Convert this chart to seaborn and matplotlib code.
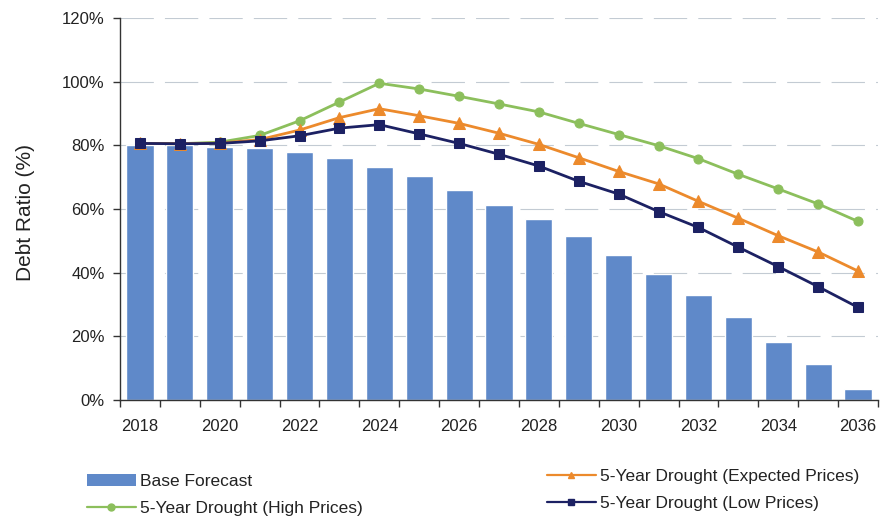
import numpy as np
import pandas as pd
import matplotlib
matplotlib.use("Agg")
import matplotlib.pyplot as plt
from matplotlib.patches import Patch
from matplotlib.lines import Line2D
import seaborn as sns

# Debt ratio projections (%), 2018-2036
years = list(range(2018, 2037))
base_forecast = [80.2, 80.0, 79.5, 79.1, 77.9, 75.9, 73.2, 70.3, 66.0, 61.3,
                 56.8, 51.5, 45.6, 39.5, 33.0, 26.0, 18.3, 11.2, 3.6]
high_prices = [80.6, 80.5, 81.0, 83.1, 87.7, 93.6, 99.5, 97.7, 95.4, 93.0,
               90.5, 86.9, 83.4, 79.9, 75.8, 70.9, 66.3, 61.6, 56.1]
expected_prices = [80.6, 80.5, 80.7, 81.8, 84.8, 88.7, 91.5, 89.3, 86.9, 83.8,
                   80.3, 76.1, 71.8, 67.9, 62.4, 57.1, 51.6, 46.5, 40.5]
low_prices = [80.6, 80.5, 80.6, 81.4, 83.0, 85.4, 86.5, 83.6, 80.6, 77.2,
              73.5, 68.7, 64.7, 59.2, 54.2, 48.0, 41.9, 35.6, 29.1]
y_ticks = [0, 20, 40, 60, 80, 100, 120]
x_tick_years = years[::2]

BAR = "#5f89c9"
GREEN = "#8cbf5c"
ORANGE = "#ec8a2c"
NAVY = "#1c2163"
TEXT = "#222222"

sns.set_style("white")
plt.rcParams["font.family"] = ["Liberation Sans", "DejaVu Sans"]

fig = plt.figure(figsize=(8.8, 5.24), dpi=100)
ax = fig.add_axes([120 / 880, 124 / 524, 758 / 880, 382 / 524])

bars = pd.DataFrame({"year": [str(y) for y in years], "ratio": base_forecast})
sns.barplot(data=bars, x="year", y="ratio", color=BAR, saturation=1,
            width=0.68, ax=ax, zorder=2)

pos = np.arange(len(years))
series = [
    (high_prices, GREEN, "o", 6.5, "5-Year Drought (High Prices)"),
    (expected_prices, ORANGE, "^", 8, "5-Year Drought (Expected Prices)"),
    (low_prices, NAVY, "s", 7, "5-Year Drought (Low Prices)"),
]
for vals, col, mk, ms, lab in series:
    sns.lineplot(x=pos, y=vals, color=col, marker=mk, markersize=ms,
                 markeredgecolor=col, linewidth=2, ax=ax, zorder=3,
                 legend=False)

ax.set_xlim(-0.5, len(years) - 0.5)
ax.set_ylim(0, 120)
ax.set_yticks(y_ticks)
ax.set_yticklabels([f"{v}%" for v in y_ticks], fontsize=12, color=TEXT)
ax.set_xticks(pos[::2])
ax.set_xticklabels([str(y) for y in x_tick_years], fontsize=12, color=TEXT)
ax.set_xticks(np.arange(-0.5, len(years), 1), minor=True)
ax.tick_params(axis="x", which="major", length=0, pad=14)
ax.tick_params(axis="x", which="minor", length=5, width=1, color="#333333",
               direction="out", bottom=True)
ax.tick_params(axis="y", length=5, width=1, color="#333333", direction="out",
               left=True, pad=6)
ax.set_xlabel("")
ax.set_ylabel("Debt Ratio (%)", fontsize=15, color=TEXT)
ax.yaxis.set_label_coords(-0.112, 0.49)

ax.yaxis.grid(True, linestyle=(0, (30, 10)), color="#c3cbd3", linewidth=0.8)
ax.xaxis.grid(False)
ax.set_axisbelow(True)
for side in ("top", "right"):
    ax.spines[side].set_visible(False)
for side in ("left", "bottom"):
    ax.spines[side].set_color("#333333")
    ax.spines[side].set_linewidth(1)

bar_handle = Patch(facecolor=BAR, edgecolor="none")
line_handles = [Line2D([0], [0], color=c, marker=m, markersize=5,
                       markeredgecolor=c, linewidth=1.6)
                for _, c, m, _, _ in series]
labels = [s[4] for s in series]

legend_kw = dict(loc="upper left", frameon=False, fontsize=12.5,
                 handlelength=2.8, handletextpad=0.25, labelspacing=0.65,
                 borderpad=0, borderaxespad=0, labelcolor=TEXT)
fig.legend([bar_handle, line_handles[0]], ["Base Forecast", labels[0]],
           bbox_to_anchor=(87 / 880, 1 - 474 / 524), **legend_kw)
fig.legend([line_handles[1], line_handles[2]], [labels[1], labels[2]],
           bbox_to_anchor=(547 / 880, 1 - 469 / 524), **legend_kw)

fig.savefig("out.png", dpi=100)
